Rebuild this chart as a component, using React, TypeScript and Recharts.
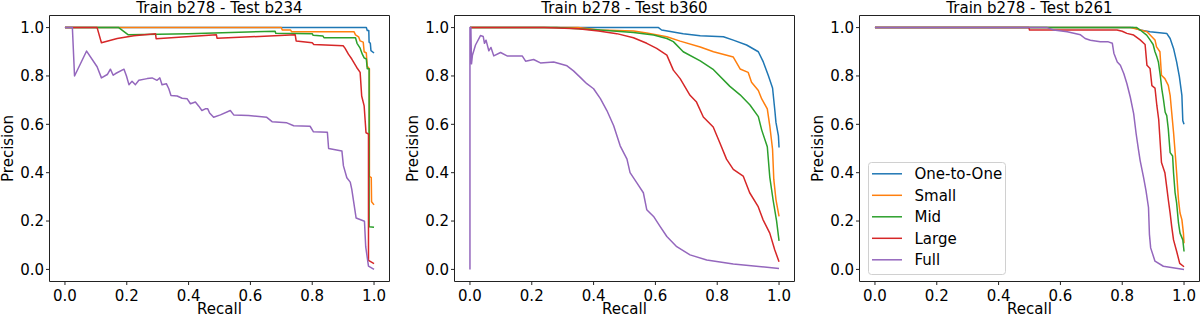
import React from 'react';
import { LineChart, Line, XAxis, YAxis, ReferenceArea, Legend } from 'recharts';

type Pt = [number, number];

// ---------- categories / labels ----------
const seriesNames = ['One-to-One', 'Small', 'Mid', 'Large', 'Full'];
const seriesColors = ['#1f77b4', '#ff7f0e', '#2ca02c', '#d62728', '#9467bd'];
const panelTitles = ['Train b278 - Test b234', 'Train b278 - Test b360', 'Train b278 - Test b261'];
const tickValues = [0, 0.2, 0.4, 0.6, 0.8, 1.0];
const xLabel = 'Recall';
const yLabel = 'Precision';

// ---------- Test b234: [recall, precision] ----------
const b234OneToOne: Pt[] = [[0, 1], [0.975, 1], [0.978, 0.988], [0.983, 0.988], [0.984, 0.94], [0.988, 0.935], [0.99, 0.905], [1, 0.895]];
const b234Small: Pt[] = [[0, 1], [0.7, 1], [0.703, 0.99], [0.73, 0.99], [0.733, 0.983], [0.935, 0.983], [0.94, 0.97], [0.95, 0.962], [0.955, 0.945], [0.965, 0.94], [0.968, 0.9], [0.975, 0.895], [0.978, 0.84], [0.985, 0.83], [0.985, 0.385], [0.991, 0.38], [0.992, 0.28], [1, 0.267]];
const b234Mid: Pt[] = [[0, 1], [0.174, 1], [0.205, 0.97], [0.4, 0.975], [0.68, 0.985], [0.682, 0.977], [0.8, 0.975], [0.803, 0.968], [0.835, 0.965], [0.838, 0.958], [0.94, 0.958], [0.945, 0.935], [0.955, 0.915], [0.962, 0.89], [0.968, 0.875], [0.975, 0.87], [0.978, 0.83], [0.984, 0.83], [0.984, 0.176], [1, 0.174]];
const b234Large: Pt[] = [[0, 1], [0.104, 1], [0.118, 0.9375], [0.169, 0.955], [0.223, 0.966], [0.293, 0.975], [0.295, 0.954], [0.49, 0.97], [0.492, 0.956], [0.745, 0.97], [0.748, 0.945], [0.8, 0.937], [0.805, 0.93], [0.9, 0.925], [0.906, 0.915], [0.917, 0.89], [0.928, 0.87], [0.944, 0.835], [0.955, 0.815], [0.96, 0.717], [0.968, 0.676], [0.974, 0.565], [0.982, 0.56], [0.982, 0.0375], [1, 0.024]];
const b234Full: Pt[] = [[0, 1], [0.024, 1], [0.031, 0.8], [0.07, 0.903], [0.104, 0.838], [0.118, 0.792], [0.137, 0.806], [0.147, 0.828], [0.156, 0.803], [0.164, 0.81], [0.191, 0.828], [0.199, 0.8], [0.207, 0.764], [0.217, 0.778], [0.228, 0.764], [0.239, 0.782], [0.266, 0.789], [0.282, 0.792], [0.298, 0.782], [0.307, 0.792], [0.314, 0.764], [0.328, 0.768], [0.336, 0.747], [0.343, 0.719], [0.363, 0.717], [0.379, 0.708], [0.395, 0.706], [0.406, 0.685], [0.422, 0.692], [0.433, 0.675], [0.443, 0.657], [0.454, 0.664], [0.462, 0.664], [0.468, 0.647], [0.481, 0.629], [0.503, 0.639], [0.535, 0.657], [0.546, 0.639], [0.594, 0.636], [0.653, 0.629], [0.67, 0.611], [0.718, 0.606], [0.74, 0.594], [0.793, 0.592], [0.804, 0.569], [0.849, 0.567], [0.853, 0.5], [0.896, 0.49], [0.901, 0.428], [0.912, 0.379], [0.923, 0.361], [0.928, 0.331], [0.942, 0.2125], [0.969, 0.199], [0.973, 0.094], [0.982, 0.014], [1, 0]];

// ---------- Test b360 ----------
const b360OneToOne: Pt[] = [[0, 1], [0.61, 1], [0.62, 0.99], [0.69, 0.975], [0.745, 0.966], [0.82, 0.962], [0.852, 0.948], [0.895, 0.928], [0.933, 0.9], [0.949, 0.858], [0.965, 0.803], [0.979, 0.75], [0.987, 0.65], [0.99, 0.608], [0.998, 0.552], [1, 0.504]];
const b360Small: Pt[] = [[0, 1], [0.35, 1], [0.42, 0.99], [0.53, 0.986], [0.572, 0.978], [0.637, 0.962], [0.68, 0.944], [0.745, 0.92], [0.788, 0.9], [0.852, 0.878], [0.874, 0.829], [0.9, 0.815], [0.911, 0.774], [0.933, 0.74], [0.944, 0.705], [0.962, 0.664], [0.97, 0.594], [0.979, 0.497], [0.983, 0.372], [0.99, 0.289], [1, 0.219]];
const b360Mid: Pt[] = [[0, 1], [0.28, 1], [0.42, 0.99], [0.529, 0.98], [0.594, 0.969], [0.637, 0.955], [0.658, 0.942], [0.69, 0.9], [0.745, 0.862], [0.788, 0.826], [0.841, 0.757], [0.874, 0.722], [0.906, 0.68], [0.933, 0.632], [0.944, 0.576], [0.962, 0.507], [0.97, 0.382], [0.981, 0.285], [0.992, 0.201], [1, 0.118]];
const b360Large: Pt[] = [[0, 1], [0.24, 1], [0.35, 0.995], [0.416, 0.986], [0.475, 0.975], [0.529, 0.958], [0.572, 0.935], [0.604, 0.914], [0.637, 0.886], [0.658, 0.824], [0.68, 0.789], [0.712, 0.72], [0.733, 0.692], [0.755, 0.63], [0.787, 0.589], [0.808, 0.525], [0.83, 0.456], [0.852, 0.414], [0.884, 0.386], [0.905, 0.317], [0.932, 0.261], [0.948, 0.206], [0.97, 0.15], [0.986, 0.081], [1, 0.032]];
const b360Full: Pt[] = [[0, 0], [0, 1], [0.003, 1], [0.005, 0.85], [0.008, 0.886], [0.018, 0.928], [0.034, 0.967], [0.043, 0.963], [0.047, 0.935], [0.052, 0.948], [0.061, 0.904], [0.068, 0.918], [0.077, 0.883], [0.099, 0.897], [0.12, 0.883], [0.169, 0.883], [0.18, 0.861], [0.206, 0.868], [0.228, 0.854], [0.271, 0.858], [0.314, 0.842], [0.335, 0.821], [0.357, 0.794], [0.378, 0.768], [0.4, 0.747], [0.422, 0.706], [0.443, 0.657], [0.465, 0.594], [0.486, 0.511], [0.508, 0.456], [0.518, 0.4], [0.54, 0.358], [0.561, 0.317], [0.572, 0.247], [0.594, 0.219], [0.615, 0.178], [0.637, 0.136], [0.669, 0.094], [0.712, 0.06], [0.766, 0.039], [0.852, 0.022], [1, 0.004]];

// ---------- Test b261 ----------
const b261OneToOne: Pt[] = [[0, 1], [0.836, 1], [0.858, 0.99], [0.89, 0.983], [0.944, 0.976], [0.955, 0.955], [0.966, 0.914], [0.976, 0.858], [0.985, 0.796], [0.993, 0.72], [0.996, 0.615], [1, 0.6]];
const b261Small: Pt[] = [[0, 1], [0.826, 1], [0.847, 0.994], [0.88, 0.983], [0.906, 0.949], [0.911, 0.92], [0.922, 0.9], [0.927, 0.803], [0.938, 0.789], [0.949, 0.761], [0.955, 0.72], [0.96, 0.65], [0.966, 0.567], [0.972, 0.47], [0.976, 0.4], [0.982, 0.289], [0.987, 0.233], [0.993, 0.206], [0.998, 0.15], [1, 0.108]];
const b261Mid: Pt[] = [[0, 1], [0.847, 1], [0.858, 0.99], [0.879, 0.969], [0.89, 0.949], [0.9, 0.93], [0.906, 0.9], [0.912, 0.879], [0.917, 0.858], [0.923, 0.803], [0.928, 0.747], [0.933, 0.706], [0.939, 0.65], [0.944, 0.636], [0.949, 0.581], [0.955, 0.483], [0.963, 0.469], [0.966, 0.4], [0.971, 0.317], [0.976, 0.275], [0.982, 0.192], [0.987, 0.15], [0.996, 0.122], [1, 0.074]];
const b261Large: Pt[] = [[0, 1], [0.498, 1], [0.5, 0.99], [0.783, 0.99], [0.8, 0.985], [0.815, 0.976], [0.837, 0.969], [0.858, 0.949], [0.874, 0.93], [0.88, 0.844], [0.89, 0.831], [0.896, 0.76], [0.906, 0.75], [0.912, 0.678], [0.918, 0.62], [0.922, 0.54], [0.927, 0.442], [0.938, 0.4], [0.944, 0.34], [0.949, 0.289], [0.955, 0.233], [0.96, 0.178], [0.966, 0.122], [0.976, 0.075], [0.986, 0.025], [1, 0.011]];
const b261Full: Pt[] = [[0, 1], [0.557, 1], [0.578, 0.99], [0.622, 0.983], [0.665, 0.97], [0.68, 0.955], [0.697, 0.948], [0.729, 0.941], [0.755, 0.941], [0.768, 0.935], [0.773, 0.894], [0.784, 0.858], [0.794, 0.844], [0.805, 0.81], [0.815, 0.769], [0.826, 0.713], [0.837, 0.644], [0.845, 0.561], [0.853, 0.491], [0.858, 0.45], [0.869, 0.381], [0.877, 0.325], [0.885, 0.256], [0.888, 0.145], [0.892, 0.089], [0.906, 0.034], [0.933, 0.013], [1, 0]];

const panelSeries: Pt[][][] = [
  [b234OneToOne, b234Small, b234Mid, b234Large, b234Full],
  [b360OneToOne, b360Small, b360Mid, b360Large, b360Full],
  [b261OneToOne, b261Small, b261Mid, b261Large, b261Full],
];

// ---------- layout ----------
const FONT = 'DejaVu Sans';
const PANEL_W = 400;
const PANEL_H = 318;
const BOX_LEFT = [49.5, 54.5, 59.5];
const BOX_W = 340;
const BOX_TOP = 15.5;
const BOX_BOTTOM = 281.5;
const Y_AXIS_W = 49;
const X_AXIS_H = 30;
const DOMAIN: [number, number] = [-0.05, 1.05];

const fmt = (v: number) => v.toFixed(1);

function LegendBox(props: any) {
  const payload = ([...(props.payload || [])] as any[]).sort(
    (a, b) => seriesNames.indexOf(a.value) - seriesNames.indexOf(b.value)
  );
  const rowH = 21.5;
  return (
    <svg width={138} height={113} style={{ display: 'block', overflow: 'visible' }}>
      <rect x={0.5} y={0.5} width={137} height={112} rx={3} ry={3} fill="rgba(255,255,255,0.8)" stroke="#d0d0d0" strokeWidth={1} />
      {payload.map((p: any, i: number) => {
        const cy = 11.8 + i * rowH;
        return (
          <g key={p.value}>
            <line x1={4} x2={34} y1={cy} y2={cy} stroke={p.color} strokeWidth={1.5} />
            <text x={46.5} y={cy} dy="0.36em" fontSize={15} fontFamily={FONT} fill="#000">{p.value}</text>
          </g>
        );
      })}
    </svg>
  );
}

function Panel({ idx }: { idx: number }) {
  const boxLeft = BOX_LEFT[idx];
  const margin = {
    top: BOX_TOP,
    right: PANEL_W - boxLeft - BOX_W,
    bottom: PANEL_H - BOX_BOTTOM - X_AXIS_H,
    left: boxLeft - Y_AXIS_W,
  };
  const cx = boxLeft + BOX_W / 2;
  const cy = (BOX_TOP + BOX_BOTTOM) / 2;
  const tickStyle = { fill: '#000', fontSize: 15, fontFamily: FONT };
  return (
    <div style={{ position: 'absolute', left: idx * PANEL_W, top: 0, width: PANEL_W, height: PANEL_H }}>
      <LineChart width={PANEL_W} height={PANEL_H} margin={margin}>
        <XAxis
          type="number"
          dataKey="r"
          domain={DOMAIN}
          allowDataOverflow
          ticks={tickValues}
          interval={0}
          tickFormatter={fmt}
          axisLine={false}
          tickSize={3.5}
          tickMargin={5}
          height={X_AXIS_H}
          tick={tickStyle}
          tickLine={{ stroke: '#222' }}
        />
        <YAxis
          type="number"
          dataKey="p"
          domain={DOMAIN}
          allowDataOverflow
          ticks={tickValues}
          interval={0}
          tickFormatter={fmt}
          axisLine={false}
          tickSize={3.5}
          tickMargin={2}
          width={Y_AXIS_W}
          tick={tickStyle}
          tickLine={{ stroke: '#222' }}
        />
        {panelSeries[idx].map((s, i) => (
          <Line
            key={seriesNames[i]}
            name={seriesNames[i]}
            data={s.map(([r, p]) => ({ r, p }))}
            dataKey="p"
            type="linear"
            stroke={seriesColors[i]}
            strokeWidth={1.5}
            strokeLinejoin="round"
            dot={false}
            activeDot={false}
            isAnimationActive={false}
          />
        ))}
        <ReferenceArea x1={DOMAIN[0]} x2={DOMAIN[1]} y1={DOMAIN[0]} y2={DOMAIN[1]} fill="none" fillOpacity={0} stroke="#222" strokeWidth={1} ifOverflow="visible" />
        {idx === 2 && (
          <Legend
            layout="vertical"
            align="center"
            verticalAlign="middle"
            content={(p: any) => <LegendBox {...p} />}
            wrapperStyle={{ position: 'absolute', left: 67.7, top: 161.7, width: 138, height: 113 }}
          />
        )}
      </LineChart>
      <svg width={PANEL_W} height={PANEL_H} style={{ position: 'absolute', left: 0, top: 0, pointerEvents: 'none' }}>
        <text x={cx} y={13.2} textAnchor="middle" fontSize={15} fontFamily={FONT} fill="#000">{panelTitles[idx]}</text>
        <text x={cx} y={313.5} textAnchor="middle" fontSize={15} fontFamily={FONT} fill="#000">{xLabel}</text>
        <text x={boxLeft - 36.3} y={cy} transform={`rotate(-90 ${boxLeft - 36.3} ${cy})`} textAnchor="middle" fontSize={15} fontFamily={FONT} fill="#000">{yLabel}</text>
      </svg>
    </div>
  );
}

export default function App() {
  return (
    <div style={{ position: 'fixed', left: 0, top: 0, width: 1200, height: 318, background: '#fff', overflow: 'hidden' }}>
      <Panel idx={0} />
      <Panel idx={1} />
      <Panel idx={2} />
    </div>
  );
}
